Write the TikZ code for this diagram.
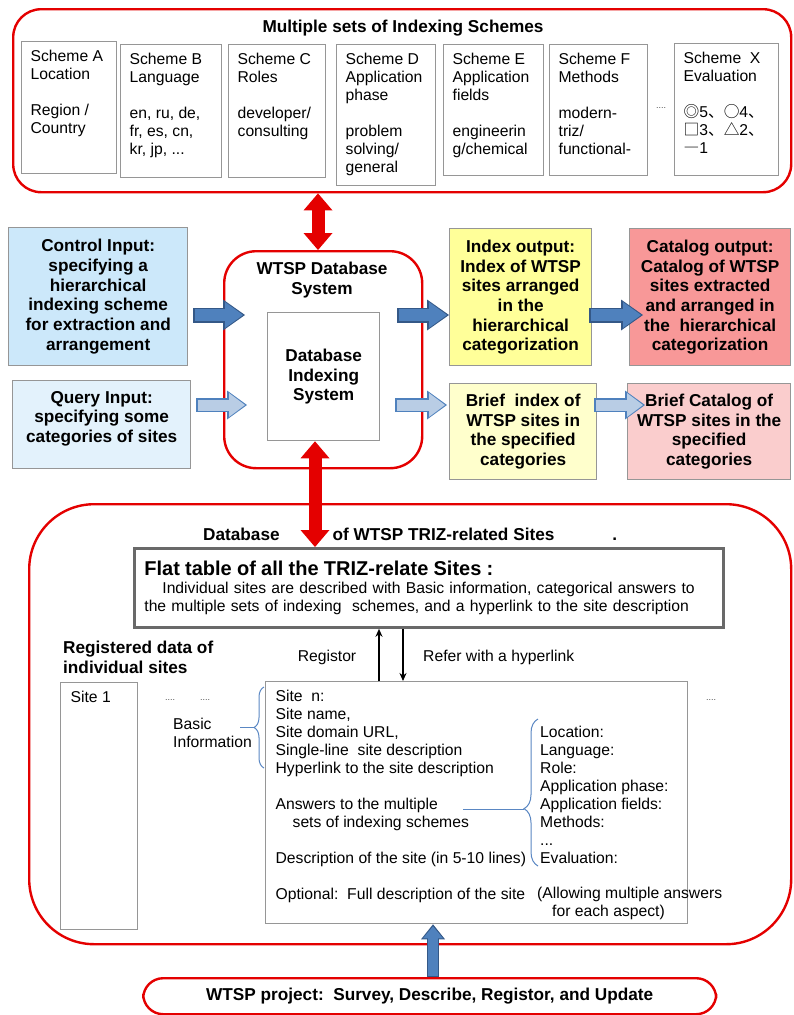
\documentclass[tikz,border=0pt]{standalone}
\usepackage{fontspec}
\setmainfont{Liberation Sans}
\newfontfamily\cjk{Noto Sans CJK SC}
\usepackage{xcolor}
\usetikzlibrary{arrows.meta,calc,decorations.pathreplacing}

\definecolor{wtspred}{RGB}{228,0,0}
\definecolor{boxgray}{RGB}{150,150,150}
\definecolor{flatgray}{RGB}{105,105,105}
\definecolor{ctrlblue}{RGB}{204,232,250}
\definecolor{queryblue}{RGB}{227,242,252}
\definecolor{idxyellow}{RGB}{255,255,153}
\definecolor{briefyellow}{RGB}{255,255,204}
\definecolor{catred}{RGB}{248,152,152}
\definecolor{briefred}{RGB}{250,205,205}
\definecolor{arrowfill}{RGB}{79,129,189}
\definecolor{arrowedge}{RGB}{52,88,135}
\definecolor{arrowlight}{RGB}{185,205,229}
\definecolor{bracecol}{RGB}{90,135,195}

\newcommand{\toptext}[3]{\parbox[t][#2][t]{#1}{\raggedright #3}}

\begin{document}
\begin{tikzpicture}[x=1pt,y=-1pt]
        \tikzstyle{every node}+=[inner sep=0pt]
        \tikzstyle{txt}=[font=\fontsize{15.7}{18}\selectfont]
        \tikzstyle{boldtxt}=[font=\fontsize{17.2}{19.7}\selectfont\bfseries]
        \tikzstyle{dotstxt}=[font=\fontsize{9}{9}\selectfont, text=black!70]
        \tikzstyle{redbox}=[draw=wtspred, line width=2.4pt, anchor=north west]
        \tikzstyle{graybox}=[draw=boxgray, line width=1.3pt, anchor=north west]
        \tikzstyle{scheme}=[graybox, fill=white, inner xsep=9pt, inner ysep=8pt, txt]
        \tikzstyle{reddouble}=[draw=wtspred, line width=13pt,
            {Triangle[width=29pt,length=17pt,line width=0pt]}-{Triangle[width=29pt,length=17pt,line width=0pt]}]
        \tikzstyle{fatdark}=[draw=arrowfill, line width=12pt, shorten <=1.5pt, shorten >=2pt,
            -{Triangle[width=26pt,length=18pt,line width=0pt]},
            preaction={draw=arrowedge, line width=15pt, shorten <=0pt, shorten >=0pt,
            -{Triangle[width=31pt,length=22pt,line width=0pt]}}]
        \tikzstyle{fatlight}=[draw=arrowlight, line width=11pt, shorten <=1.5pt, shorten >=2pt,
            -{Triangle[width=24pt,length=16pt,line width=0pt]},
            preaction={draw=arrowfill, line width=14pt, shorten <=0pt, shorten >=0pt,
            -{Triangle[width=29pt,length=20pt,line width=0pt]}}]
        \tikzstyle{fatup}=[draw=arrowfill, line width=10pt, shorten <=1pt, shorten >=2pt,
            -{Triangle[width=20pt,length=12pt,line width=0pt]},
            preaction={draw=arrowedge, line width=12pt, shorten <=0pt, shorten >=0pt,
            -{Triangle[width=24pt,length=15pt,line width=0pt]}}]
        \tikzstyle{thinarrow}=[draw=black, line width=1.3pt, -{Stealth[length=8pt,width=7pt]}]
        \tikzstyle{bracestyle}=[draw=bracecol, line width=1pt]
        \useasboundingbox (0,0) rectangle (794,1015);
        % indexing schemes
        \node[redbox, rounded corners=28pt, minimum width=778pt, minimum height=183pt] (schemes) at (12,8) {};
        \node[boldtxt] (schemestitle) at (403,28) {Multiple sets of Indexing Schemes};
        \node[scheme] (schA) at (21,41) {\toptext{77pt}{116pt}{Scheme A\\Location\\[18pt]Region /\\Country}};
        \node[scheme] (schB) at (120,44) {\toptext{83pt}{117pt}{Scheme B\\Language\\[18pt]en, ru, de,\\fr, es, cn,\\kr, jp, ...}};
        \node[scheme] (schC) at (228,44) {\toptext{79pt}{117pt}{Scheme C\\Roles\\[18pt]developer/\\consulting}};
        \node[scheme] (schD) at (336,44) {\toptext{81pt}{125pt}{Scheme D\\Application\\phase\\[18pt]problem\\solving/\\general}};
        \node[scheme] (schE) at (443,44) {\toptext{82pt}{115pt}{Scheme E\\Application\\fields\\[18pt]engineerin\\g/chemical}};
        \node[scheme] (schF) at (549,44) {\toptext{80pt}{115pt}{Scheme F\\Methods\\[18pt]modern-\\triz/\\functional-}};
        \node[dotstxt] (dotsF) at (661,108) {....};
        \node[scheme] (schX) at (674,43) {\toptext{86pt}{116pt}{Scheme\ \ X\\Evaluation\\[18pt]{\cjk ◎}5{\cjk 、○}4{\cjk 、}\\{\cjk □}3{\cjk 、△}2{\cjk 、}\\{\cjk ―}1}};
        % database system
        \node[redbox, rounded corners=32pt, minimum width=198pt, minimum height=217pt] (wtsp) at (223,250) {};
        \node[boldtxt, align=center] (wtsptitle) at (322,280) {WTSP Database\\System};
        \node[graybox, fill=white, minimum width=112pt, minimum height=128pt, boldtxt, align=center] (dbidx) at (267,312) {Database\\Indexing\\System};
        % inputs and outputs
        \node[graybox, fill=ctrlblue, minimum width=179pt, minimum height=138pt, boldtxt, align=center] (ctrl) at (8,227) {Control Input:\\specifying a\\hierarchical\\indexing scheme\\for extraction and\\arrangement};
        \node[graybox, fill=queryblue, minimum width=178pt, minimum height=88pt, boldtxt, align=center] (query) at (12,380) {Query Input:\\specifying some\\categories of sites\\[-4pt]};
        \node[graybox, fill=idxyellow, minimum width=142pt, minimum height=137pt, boldtxt, align=center] (index) at (449,228) {Index output:\\Index of WTSP\\sites arranged\\in the\\hierarchical\\categorization};
        \node[graybox, fill=catred, minimum width=161pt, minimum height=137pt, boldtxt, align=center] (catalog) at (629,228) {Catalog output:\\Catalog of WTSP\\sites extracted\\and arranged in\\the\ \ hierarchical\\categorization};
        \node[graybox, fill=briefyellow, minimum width=147pt, minimum height=96pt, boldtxt, align=center] (brief) at (449,383) {Brief\ \ index of\\WTSP sites in\\the specified\\categories};
        \node[graybox, fill=briefred, minimum width=163pt, minimum height=96pt, boldtxt, align=center] (briefcat) at (627,383) {Brief Catalog of\\WTSP sites in the\\specified\\categories};
        \coordinate (rowA) at (0,315);
        \coordinate (rowB) at (0,405);
        \draw[fatdark] ($(ctrl.east |- rowA)+(5,0)$) -- ($(wtsp.west |- rowA)+(22,0)$);
        \draw[fatlight] ($(query.east |- rowB)+(5,0)$) -- ($(wtsp.west |- rowB)+(24,0)$);
        \draw[fatdark] ($(wtsp.east |- rowA)+(-26,0)$) -- (index.west |- rowA);
        \draw[fatlight] ($(wtsp.east |- rowB)+(-28,0)$) -- ($(brief.west |- rowB)+(-2,0)$);
        \draw[fatdark] ($(index.east |- rowA)+(-3,0)$) -- ($(catalog.west |- rowA)+(14,0)$);
        \draw[fatlight] ($(brief.east |- rowB)+(-3,0)$) -- ($(briefcat.west |- rowB)+(18,0)$);
        % database of sites
        \node[redbox, rounded corners=65pt, minimum width=762pt, minimum height=440pt] (dbsites) at (28,503) {};
        \node[boldtxt, anchor=base west] (dbtitle) at (203,540) {Database\hspace{53pt}of WTSP TRIZ-related Sites\hspace{58pt}.};
        \node[graybox, draw=flatgray, line width=2.8pt, fill=white, minimum height=79pt, text width=569pt, inner xsep=10pt, align=left, txt] (flat) at (133,547)
            {{\fontsize{20}{22}\selectfont\bfseries Flat table of all the TRIZ-relate Sites :}\\
             \hspace*{18pt}Individual sites are described with Basic information, categorical answers to\\
             the multiple sets of indexing\ \ schemes, and a hyperlink to the site description};
        \coordinate (topx) at (318,0);
        \coordinate (redx) at (315,0);
        \draw[reddouble] (schemes.south -| topx) -- (wtsp.north -| topx);
        \draw[reddouble] (dbidx.south -| redx) -- (flat.north -| redx);
        \node[boldtxt, anchor=north west, align=left] (regdata) at (63,641) {Registered data of\\individual sites};
        \node[scheme, inner xsep=10pt] (site1) at (60,682) {\toptext{57pt}{231pt}{Site 1}};
        \node[dotstxt] (dotsA) at (170,700) {....};
        \node[dotstxt] (dotsB) at (205,700) {....};
        \node[txt, anchor=north west, align=left] (basic) at (173,718) {Basic\\Information};
        \node[scheme, inner xsep=10pt] (siten) at (265,681) {\toptext{402pt}{226pt}{Site\ \ n:\\Site name,\\Site domain URL,\\Single-line\ \ site description\\Hyperlink to the site description\\[18pt]Answers to the multiple\\\hspace*{17pt}sets of indexing schemes\\[18pt]Description of the site (in 5-10 lines)\\[18pt]Optional:\ \ Full description of the site}};
        \node[dotstxt] (dotsC) at (711,700) {....};
        \node[txt, anchor=north west, align=left] (aspects) at (540,726) {Location:\\Language:\\Role:\\Application phase:\\Application fields:\\Methods:\\...\\Evaluation:};
        \node[txt, anchor=north west, align=left] (allow) at (537,887) {(Allowing multiple answers\\\hspace*{15pt}for each aspect)};
        \draw[bracestyle, decorate, decoration={brace, amplitude=10pt}] (264,768) -- (264,687);
        \draw[bracestyle] (240,727) -- (254,727);
        \draw[bracestyle, decorate, decoration={brace, amplitude=14pt, aspect=0.39}] (538,866) -- (538,719);
        \draw[bracestyle] (463,809) -- (524,809);
        % registration arrows
        \coordinate (upx) at (379,0);
        \coordinate (downx) at (403,0);
        \draw[thinarrow] (siten.north -| upx) -- (flat.south -| upx);
        \draw[thinarrow] (flat.south -| downx) -- (siten.north -| downx);
        \node[txt] (regtxt) at (327,657) {Registor};
        \node[txt, anchor=west] (refertxt) at (423,657) {Refer with a hyperlink};
        % project
        \node[redbox, rounded corners=20pt, minimum width=573pt, minimum height=36pt, boldtxt] (project) at (142,977) {WTSP project:\ \ Survey, Describe, Registor, and Update};
        \coordinate (bluex) at (433,0);
        \draw[fatup] (project.north -| bluex) -- (siten.south -| bluex);
\end{tikzpicture}
\end{document}
